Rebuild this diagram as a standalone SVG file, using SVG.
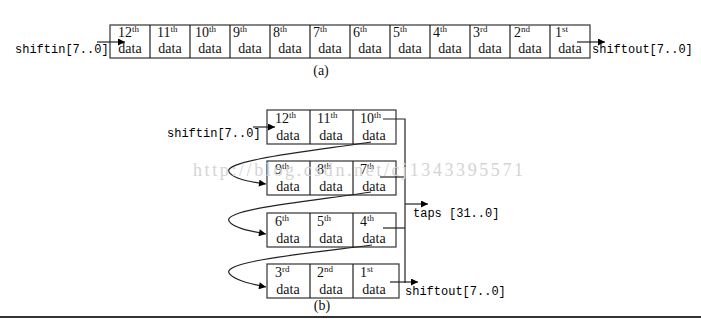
<svg xmlns="http://www.w3.org/2000/svg" width="701" height="319" viewBox="0 0 701 319">
<defs>
<marker id="ah" viewBox="0 0 10 10" refX="10" refY="5" markerWidth="9" markerHeight="7" markerUnits="userSpaceOnUse" orient="auto">
<path d="M0,0 L10,5 L0,10 z" fill="#000"/>
</marker>
<style>
.cell{fill:#fff;stroke:#333;stroke-width:1.2}
.ord{font-family:"Liberation Serif",serif;font-size:14px;fill:#111}
.sup{font-size:9px}
.dat{font-family:"Liberation Serif",serif;font-size:14px;fill:#111;text-anchor:middle}
.mono{font-family:"Liberation Mono",monospace;font-size:12px;fill:#000}
.lbl{font-family:"Liberation Serif",serif;font-size:14px;fill:#111;text-anchor:middle}
.ln{fill:none;stroke:#222;stroke-width:1.2}
.wm{font-family:"Liberation Serif",serif;font-size:18px;fill:#d4d4d4}
</style>
</defs>
<rect width="701" height="319" fill="#fff"/>

<g id="row-a">
<rect class="cell" x="110" y="25" width="480" height="33"/>
<path class="ln" d="M150,25V58M190,25V58M230,25V58M270,25V58M310,25V58M350,25V58M390,25V58M430,25V58M470,25V58M510,25V58M550,25V58"/>
<text class="ord" x="118" y="37">12<tspan class="sup" dy="-5">th</tspan></text>
<text class="ord" x="157" y="37">11<tspan class="sup" dy="-5">th</tspan></text>
<text class="ord" x="195" y="37">10<tspan class="sup" dy="-5">th</tspan></text>
<text class="ord" x="233" y="37">9<tspan class="sup" dy="-5">th</tspan></text>
<text class="ord" x="273" y="37">8<tspan class="sup" dy="-5">th</tspan></text>
<text class="ord" x="313" y="37">7<tspan class="sup" dy="-5">th</tspan></text>
<text class="ord" x="353" y="37">6<tspan class="sup" dy="-5">th</tspan></text>
<text class="ord" x="393" y="37">5<tspan class="sup" dy="-5">th</tspan></text>
<text class="ord" x="433" y="37">4<tspan class="sup" dy="-5">th</tspan></text>
<text class="ord" x="473" y="37">3<tspan class="sup" dy="-5">rd</tspan></text>
<text class="ord" x="514" y="37">2<tspan class="sup" dy="-5">nd</tspan></text>
<text class="ord" x="555" y="37">1<tspan class="sup" dy="-5">st</tspan></text>
<text class="dat" x="130" y="53">data</text>
<text class="dat" x="170" y="53">data</text>
<text class="dat" x="210" y="53">data</text>
<text class="dat" x="250" y="53">data</text>
<text class="dat" x="290" y="53">data</text>
<text class="dat" x="330" y="53">data</text>
<text class="dat" x="370" y="53">data</text>
<text class="dat" x="410" y="53">data</text>
<text class="dat" x="450" y="53">data</text>
<text class="dat" x="490" y="53">data</text>
<text class="dat" x="530" y="53">data</text>
<text class="dat" x="570" y="53">data</text>
</g>
<g id="labels-a">
<text class="mono" x="15" y="53">shiftin[7..0]</text>
<text class="mono" x="592" y="53">shiftout[7..0]</text>
<text class="lbl" x="321" y="75">(a)</text>
</g>

<g id="row-b1">
<rect class="cell" x="267" y="110" width="129" height="34"/>
<path class="ln" d="M310,110V144M353,110V144"/>
<text class="ord" x="275" y="123">12<tspan class="sup" dy="-5">th</tspan></text>
<text class="ord" x="317" y="123">11<tspan class="sup" dy="-5">th</tspan></text>
<text class="ord" x="360" y="123">10<tspan class="sup" dy="-5">th</tspan></text>
<text class="dat" x="288" y="140">data</text>
<text class="dat" x="331" y="140">data</text>
<text class="dat" x="374" y="140">data</text>
</g>
<g id="row-b2">
<rect class="cell" x="267" y="161" width="129" height="34"/>
<path class="ln" d="M310,161V195M353,161V195"/>
<text class="ord" x="275" y="174">9<tspan class="sup" dy="-5">th</tspan></text>
<text class="ord" x="317" y="174">8<tspan class="sup" dy="-5">th</tspan></text>
<text class="ord" x="360" y="174">7<tspan class="sup" dy="-5">th</tspan></text>
<text class="dat" x="288" y="191">data</text>
<text class="dat" x="331" y="191">data</text>
<text class="dat" x="374" y="191">data</text>
</g>
<g id="row-b3">
<rect class="cell" x="267" y="213" width="129" height="34"/>
<path class="ln" d="M310,213V247M353,213V247"/>
<text class="ord" x="275" y="226">6<tspan class="sup" dy="-5">th</tspan></text>
<text class="ord" x="317" y="226">5<tspan class="sup" dy="-5">th</tspan></text>
<text class="ord" x="360" y="226">4<tspan class="sup" dy="-5">th</tspan></text>
<text class="dat" x="288" y="243">data</text>
<text class="dat" x="331" y="243">data</text>
<text class="dat" x="374" y="243">data</text>
</g>
<g id="row-b4">
<rect class="cell" x="267" y="264" width="132" height="34"/>
<path class="ln" d="M310,264V298M353,264V298"/>
<text class="ord" x="275" y="277">3<tspan class="sup" dy="-5">rd</tspan></text>
<text class="ord" x="317" y="277">2<tspan class="sup" dy="-5">nd</tspan></text>
<text class="ord" x="360" y="277">1<tspan class="sup" dy="-5">st</tspan></text>
<text class="dat" x="288" y="294">data</text>
<text class="dat" x="331" y="294">data</text>
<text class="dat" x="374" y="294">data</text>
</g>
<g id="labels-b">
<text class="mono" x="167" y="137">shiftin[7..0]</text>
<text class="mono" x="413" y="217">taps [31..0]</text>
<text class="mono" x="405" y="295">shiftout[7..0]</text>
<text class="lbl" x="322" y="310">(b)</text>
</g>

<g id="connectors">
<line class="ln" x1="97" y1="42" x2="125" y2="42" marker-end="url(#ah)"/>
<line class="ln" x1="577" y1="42" x2="605" y2="42" marker-end="url(#ah)"/>
<line class="ln" x1="253" y1="127" x2="275" y2="127" marker-end="url(#ah)"/>
<path class="ln" d="M383,119H405V283"/>
<path class="ln" d="M380,177H405"/>
<path class="ln" d="M383,228H405"/>
<line class="ln" x1="405" y1="204" x2="428" y2="204" marker-end="url(#ah)"/>
<line class="ln" x1="390" y1="282" x2="418" y2="282" marker-end="url(#ah)"/>
<path class="ln" d="M371,142 C320,150 222,160 229,172 C233,179 250,182 266,184" marker-end="url(#ah)"/>
<path class="ln" d="M371,192 C320,200 222,209 229,221 C233,228 250,231 266,234" marker-end="url(#ah)"/>
<path class="ln" d="M372,245 C320,252 222,261 229,273 C233,280 250,284 266,287" marker-end="url(#ah)"/>
</g>

<text class="wm" x="193" y="176" textLength="330" lengthAdjust="spacing">http://blog.csdn.net/cj1343395571</text>
<line x1="0" y1="317" x2="701" y2="317" stroke="#333" stroke-width="2"/>
</svg>
